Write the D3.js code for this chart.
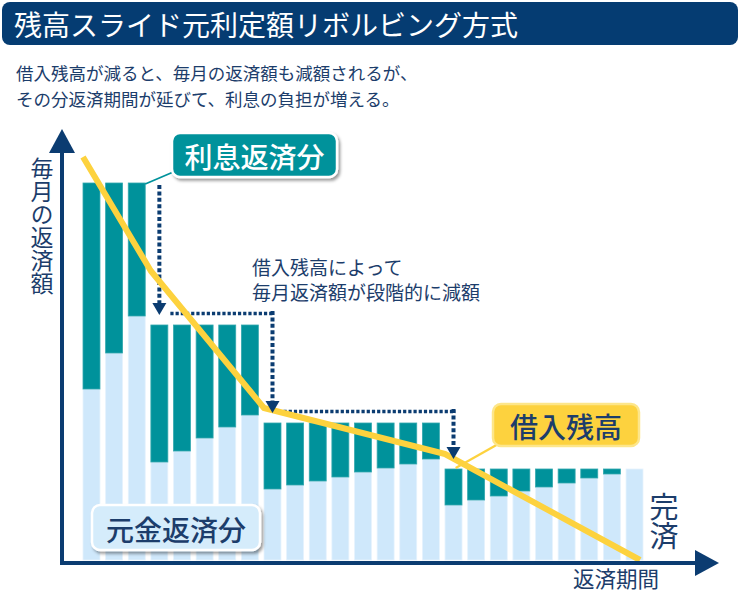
<!DOCTYPE html>
<html><head><meta charset="utf-8">
<script src="https://cdn.jsdelivr.net/npm/d3@7"></script>
<style>
html,body{margin:0;padding:0;background:#fff;}
svg{display:block;font-family:'Noto Sans CJK JP','Noto Sans',sans-serif;}
</style></head>
<body><svg id="chart" width="740" height="593"></svg>
<script>
// ---- data ----
const periods = ["1","2","3","4","5","6","7","8","9","10","11","12","13","14","15","16","17","18","19","20","21","22","23","24","25"];
const payment = [377,377,377,235,235,235,235,235,137,137,137,137,137,137,137,137,91,91,91,91,91,91,91,91,91];
const principal = [171,207,244,98,109,122,133,145,71,75,79,83,88,92,96,101,55,60,64,69,73,77,82,86,91];
const balanceIdx = [0,3,8,16,25];
const balanceVal = [403,289,152,106,0];
const titleText = "残高スライド元利定額リボルビング方式";
const subtitleLines = ["借入残高が減ると、毎月の返済額も減額されるが、","その分返済期間が延びて、利息の負担が増える。"];
const noteLines = ["借入残高によって","毎月返済額が段階的に減額"];
const yLabel = "毎月の返済額";
const xLabel = "返済期間";
const endLabel = "完済";
const labelInterest = "利息返済分";
const labelPrincipal = "元金返済分";
const labelBalance = "借入残高";

// ---- styles ----
const NAVY = "#0b3c71", TEXT = "#1c3d6b", TEAL = "#00929b", LIGHT = "#cfe8fb", YELLOW = "#fdd23e";

const svg = d3.select("#chart");
const defs = svg.append("defs");
const f = defs.append("filter").attr("id","shadow").attr("x","-10%").attr("y","-20%").attr("width","130%").attr("height","160%");
f.append("feDropShadow").attr("dx",2).attr("dy",2.5).attr("stdDeviation",1.6).attr("flood-color","#000").attr("flood-opacity",0.4);

// title banner
svg.append("rect").attr("x",2).attr("y",2).attr("width",736).attr("height",43).attr("rx",8).attr("fill","#053c72");
svg.append("text").attr("x",14).attr("y",24).attr("dominant-baseline","central")
  .attr("fill","#fff").attr("font-size",28).text(titleText);
svg.selectAll("text.sub").data(subtitleLines).join("text").attr("class","sub")
  .attr("x",16).attr("y",(d,i)=>72+i*26).attr("dominant-baseline","central")
  .attr("fill",TEXT).attr("font-size",17.5).text(d=>d);

// scales
const x = d3.scaleBand().domain(periods).range([83,643]).paddingInner(0.25).paddingOuter(0);
const y = d3.scaleLinear().domain([0,400]).range([560,160]);
const bw = x.bandwidth();

// bars: principal (light) + interest (teal)
const rows = periods.map((p,i)=>({p, pay:payment[i], prin:principal[i]}));
svg.append("g").selectAll("rect").data(rows).join("rect")
  .attr("x",d=>x(d.p)).attr("width",bw)
  .attr("y",d=>y(d.prin)).attr("height",d=>y(0)-y(d.prin))
  .attr("fill",LIGHT).attr("stroke","#e6f3fd").attr("stroke-width",0.8);
svg.append("g").selectAll("rect").data(rows.filter(d=>d.pay>d.prin)).join("rect")
  .attr("x",d=>x(d.p)).attr("width",bw)
  .attr("y",d=>y(d.pay)).attr("height",d=>y(d.prin)-y(d.pay))
  .attr("fill",TEAL).attr("stroke","#33a8ae").attr("stroke-width",0.8);

// step-down dotted arrows
const starts = [];
for (let i=1;i<payment.length;i++) if (payment[i]!==payment[i-1]) starts.push(i);
const gDot = svg.append("g");
const heads = [];
starts.forEach((b,k)=>{
  const xc = x(periods[b]) + bw/2;
  const tipY = y(payment[b]) - 10;
  let y0;
  if (k===0) y0 = y(payment[b-1]) + 2;
  else y0 = y(payment[starts[k-1]]) - 14;
  gDot.append("line").attr("x1",xc).attr("x2",xc).attr("y1",y0).attr("y2",tipY-12)
    .attr("stroke",NAVY).attr("stroke-width",4).attr("stroke-dasharray","4 2.4");
  heads.push([xc,tipY]);
  if (k < starts.length-1) {
    const xn = x(periods[starts[k+1]]) + bw/2;
    gDot.append("line").attr("x1",xc+11).attr("x2",xn+2).attr("y1",tipY-1.5).attr("y2",tipY-1.5)
      .attr("stroke",NAVY).attr("stroke-width",3.5).attr("stroke-dasharray","3.2 2");
  }
});

// balance line
const bx = t => t < periods.length ? x(periods[t]) : x(periods[periods.length-1]) + bw - 3;
const line = d3.line().x(d=>bx(d[0])).y(d=>y(d[1]));
svg.append("path").datum(balanceIdx.map((t,i)=>[t,balanceVal[i]]))
  .attr("d",line).attr("fill","none").attr("stroke",YELLOW).attr("stroke-width",6)
  .attr("stroke-linejoin","round");

// arrow heads
svg.append("g").selectAll("path").data(heads).join("path")
  .attr("d",d=>`M${d[0]-7},${d[1]-12}L${d[0]+7},${d[1]-12}L${d[0]},${d[1]}Z`).attr("fill",NAVY);

// axes
const axG = svg.append("g");
axG.append("line").attr("x1",62).attr("x2",62).attr("y1",150).attr("y2",565).attr("stroke",NAVY).attr("stroke-width",4);
axG.append("line").attr("x1",60).attr("x2",698).attr("y1",563).attr("y2",563).attr("stroke",NAVY).attr("stroke-width",4);
axG.append("path").attr("d","M62,129L75,153L49,153Z").attr("fill",NAVY);
axG.append("path").attr("d","M719,563L695,550L695,576Z").attr("fill",NAVY);

// axis labels (vertical text)
svg.append("text").attr("x",42).attr("y",157)
  .style("writing-mode","vertical-rl").style("glyph-orientation-vertical","0")
  .attr("fill",TEXT).attr("font-size",23).text(yLabel);
svg.append("text").attr("x",664).attr("y",492)
  .style("writing-mode","vertical-rl")
  .attr("fill",TEXT).attr("font-size",29).text(endLabel);
svg.append("text").attr("x",573).attr("y",577).attr("dominant-baseline","central")
  .attr("fill",TEXT).attr("font-size",21.5).text(xLabel);

// note
svg.selectAll("text.note").data(noteLines).join("text").attr("class","note")
  .attr("x",252).attr("y",(d,i)=>266+i*25).attr("dominant-baseline","central")
  .attr("fill",TEXT).attr("font-size",19).text(d=>d);

// connectors
const b3 = x(periods[2]) + bw;
svg.append("line").attr("x1",b3).attr("y1",y(payment[2])+1).attr("x2",178).attr("y2",170)
  .attr("stroke",TEAL).attr("stroke-width",1.8);
svg.append("line").attr("x1",bx(17)-12).attr("y1",y(92)).attr("x2",500).attr("y2",443)
  .attr("stroke",YELLOW).attr("stroke-width",2.2);

// label boxes
function box(x0,y0,w,h,fill,stroke,txt,color,shadow){
  const g = svg.append("g");
  const r = g.append("rect").attr("x",x0).attr("y",y0).attr("width",w).attr("height",h).attr("rx",8)
    .attr("fill",fill).attr("stroke",stroke).attr("stroke-width",2.5);
  if (shadow) r.attr("filter","url(#shadow)");
  g.append("text").attr("x",x0+w/2).attr("y",y0+h/2+1).attr("text-anchor","middle")
    .attr("dominant-baseline","central").attr("fill",color).attr("font-size",28).attr("font-weight",500).text(txt);
}
box(172,133,165,44,TEAL,"#fff",labelInterest,"#fff",true);
box(493,404,146,42,YELLOW,"#fde68a",labelBalance,TEXT,false);
box(92,505,168,45,"#d5ecfb","#fff",labelPrincipal,TEXT,true);
</script></body></html>
